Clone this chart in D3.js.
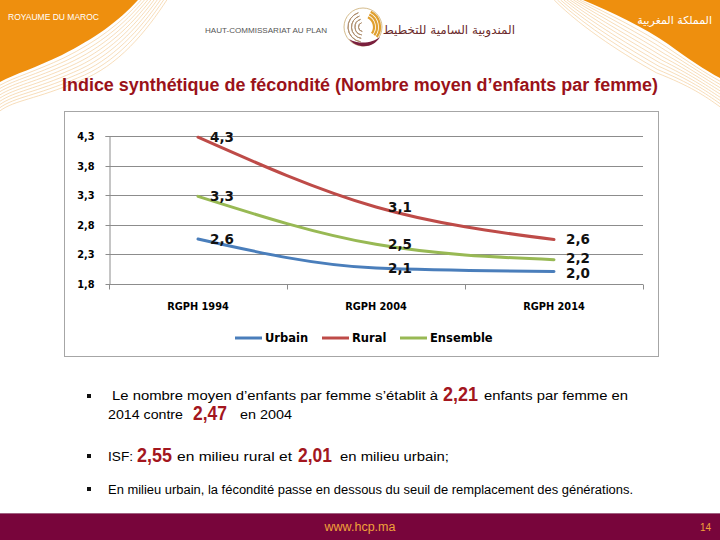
<!DOCTYPE html>
<html><head><meta charset="utf-8">
<script src="https://cdn.jsdelivr.net/npm/d3@7"></script>
<style>body{margin:0;background:#fff}svg{display:block}</style>
</head><body>
<script>
// ---- data ----
const categories = ["RGPH 1994", "RGPH 2004", "RGPH 2014"];
const urbain   = [2.56, 2.07, 2.01];
const rural    = [4.28, 3.10, 2.55];
const ensemble = [3.28, 2.47, 2.21];
const urbainLabels   = ["2,6", "2,1", "2,0"];
const ruralLabels    = ["4,3", "3,1", "2,6"];
const ensembleLabels = ["3,3", "2,5", "2,2"];
const yTicks = [1.8, 2.3, 2.8, 3.3, 3.8, 4.3];
const seriesNames = ["Urbain", "Rural", "Ensemble"];
const seriesColors = ["#4A7EBB", "#BE4B48", "#98B954"];

const W = 720, H = 540;
const svg = d3.select("body").append("svg").attr("width", W).attr("height", H);

// ---- header decorations ----
const orange = "#EE8F0E";
svg.append("path").attr("fill", orange)
  .attr("d", "M0,0 L138,0 C118,22 95,38 62,55 C35,68 15,74 0,82 Z");
svg.append("path").attr("fill", orange)
  .attr("d", "M583,0 L720,0 L720,78 C705,70 690,60 668,44 C645,28 612,12 583,0 Z");
const stripes = svg.append("g").attr("fill", "none").attr("stroke", "#F3CF9C").attr("stroke-width", 0.7);
for (let i = 1; i <= 9; i++) {
  const o = i * 3.2;
  stripes.append("path").attr("d", `M${138+o},0 C${118+o},${22+o*0.3} ${95+o*0.8},${38+o} ${62+o*0.6},${55+o*0.9} C${35},${68+o*1.1} ${15},${74+o*0.9} 0,${82+o}`);
  stripes.append("path").attr("d", `M${583-o},0 C${612-o},${12+o*0.6} ${645-o*0.6},${28+o} ${668-o*0.4},${44+o} C${690},${60+o*0.9} ${705},${70+o*0.9} 720,${78+o}`);
}
svg.append("text").attr("x", 8).attr("y", 20).attr("fill", "#fff")
  .attr("font-family", "Liberation Sans, Arial, sans-serif").attr("font-size", 8.5)
  .text("ROYAUME DU MAROC");
svg.append("text").attr("x", 712).attr("y", 24).attr("fill", "#fff").attr("text-anchor", "end")
  .attr("font-family", "DejaVu Sans, sans-serif").attr("font-size", 11)
  .text("المملكة المغربية");
svg.append("text").attr("x", 205).attr("y", 33).attr("fill", "#555")
  .attr("font-family", "Liberation Sans, Arial, sans-serif").attr("font-size", 7)
  .attr("textLength", 122).attr("lengthAdjust", "spacingAndGlyphs")
  .text("HAUT-COMMISSARIAT AU PLAN");
// logo
const lg = svg.append("g").attr("transform", "translate(363,27)").attr("fill", "none");
lg.append("circle").attr("r", 19).attr("stroke", "#C9A96E").attr("stroke-width", 0.8);
[15, 11.5, 8, 4.5].forEach((r) => {
  lg.append("path").attr("stroke", "#B09070").attr("stroke-width", 1)
    .attr("d", d3.arc()({innerRadius: r, outerRadius: r, startAngle: -Math.PI * 0.95, endAngle: -Math.PI * 0.1}));
});
[17, 14, 11].forEach((r) => {
  lg.append("path").attr("stroke", "#E0A030").attr("stroke-width", 2.2)
    .attr("d", d3.arc()({innerRadius: r, outerRadius: r, startAngle: Math.PI * 0.15, endAngle: Math.PI * 0.7}));
});
lg.append("path").attr("fill", "#7A1F3D")
  .attr("d", "M-14,12 C-6,22 10,22 17,10 C10,16 -4,18 -14,12 Z");
svg.append("text").attr("x", 515).attr("y", 34).attr("fill", "#6B2A2A").attr("text-anchor", "end")
  .attr("font-family", "DejaVu Sans, sans-serif").attr("font-size", 12)
  .text("المندوبية السامية للتخطيط");

// ---- title ----
svg.append("text").attr("x", 62).attr("y", 91).attr("fill", "#9A1219")
  .attr("font-family", "Liberation Sans Narrow, Liberation Sans, Arial, sans-serif")
  .attr("font-weight", "bold").attr("font-size", 17.5)
  .attr("textLength", 596).attr("lengthAdjust", "spacingAndGlyphs")
  .text("Indice synthétique de fécondité (Nombre moyen d’enfants par femme)");

// ---- chart frame ----
svg.append("rect").attr("x", 64.5).attr("y", 111.5).attr("width", 594).attr("height", 245)
  .attr("fill", "#fff").attr("stroke", "#A6A6A6").attr("stroke-width", 1);

const x = d3.scaleBand().domain(categories).range([109, 643]).padding(0);
const y = d3.scaleLinear().domain([1.8, 4.3]).range([284, 136]);
const fmt = v => v.toFixed(1).replace(".", ",");

svg.append("g").selectAll("line").data(yTicks.slice(1)).join("line")
  .attr("x1", 109).attr("x2", 643)
  .attr("y1", d => Math.round(y(d)) + 0.5).attr("y2", d => Math.round(y(d)) + 0.5)
  .attr("stroke", "#8C8C8C").attr("stroke-width", 1);

const yAxis = svg.append("g").attr("transform", "translate(109.5,0)")
  .call(d3.axisLeft(y).tickValues(yTicks).tickFormat(fmt).tickSize(4).tickPadding(11));
yAxis.select(".domain").attr("stroke", "#8C8C8C").attr("d", `M-4,${y(4.3)+0.5}H0.5V${y(1.8)}`);
yAxis.selectAll(".tick line").attr("stroke", "#8C8C8C");
yAxis.selectAll(".tick text").attr("font-family", "DejaVu Sans, Verdana, sans-serif")
  .attr("font-weight", "bold").attr("font-size", 9.8).attr("fill", "#000");
yAxis.selectAll(".tick").attr("transform", d => `translate(0,${Math.round(y(d)) + 0.5})`);

const xAxis = svg.append("g").attr("transform", `translate(0,${Math.round(y(1.8)) + 0.5})`);
xAxis.append("line").attr("x1", 109).attr("x2", 643).attr("stroke", "#8C8C8C");
const edges = [...categories.map(c => x(c)), x(categories[categories.length - 1]) + x.bandwidth()];
xAxis.selectAll("line.tk").data(edges).join("line").attr("class", "tk")
  .attr("x1", d => Math.round(d) + 0.5).attr("x2", d => Math.round(d) + 0.5)
  .attr("y1", 0).attr("y2", 5).attr("stroke", "#8C8C8C");
xAxis.selectAll("text").data(categories).join("text")
  .attr("x", d => x(d) + x.bandwidth() / 2).attr("y", 25).attr("text-anchor", "middle")
  .attr("font-family", "DejaVu Sans, Verdana, sans-serif").attr("font-weight", "bold")
  .attr("font-size", 9.8).attr("fill", "#000").text(d => d);

const series = [
  {name: seriesNames[0], color: seriesColors[0], values: urbain, labels: urbainLabels, nudge: [0, 0, 1.5]},
  {name: seriesNames[1], color: seriesColors[1], values: rural, labels: ruralLabels, nudge: [0, 0, 0]},
  {name: seriesNames[2], color: seriesColors[2], values: ensemble, labels: ensembleLabels, nudge: [0, 0, -1.5]}
];
const cx = c => x(c) + x.bandwidth() / 2;
const line = d3.line().x((d, i) => cx(categories[i])).y(d => y(d)).curve(d3.curveMonotoneX);
svg.append("g").selectAll("path").data(series).join("path")
  .attr("d", s => line(s.values)).attr("fill", "none")
  .attr("stroke", s => s.color).attr("stroke-width", 3).attr("stroke-linecap", "round");

series.forEach(s => {
  svg.append("g").selectAll("text").data(s.values).join("text")
    .attr("x", (d, i) => cx(categories[i]) + 12).attr("y", (d, i) => y(d) + s.nudge[i])
    .attr("dy", "0.36em")
    .attr("font-family", "DejaVu Sans, Verdana, sans-serif").attr("font-weight", "bold")
    .attr("font-size", 13.5).attr("fill", "#111")
    .text((d, i) => s.labels[i]);
});

const legX = [235, 322, 400];
const leg = svg.append("g");
series.forEach((s, i) => {
  leg.append("line").attr("x1", legX[i]).attr("x2", legX[i] + 27).attr("y1", 338).attr("y2", 338)
    .attr("stroke", s.color).attr("stroke-width", 3);
  leg.append("text").attr("x", legX[i] + 30).attr("y", 338).attr("dy", "0.36em")
    .attr("font-family", "DejaVu Sans, Verdana, sans-serif").attr("font-weight", "bold")
    .attr("font-size", 11.5).attr("fill", "#000").text(s.name);
});

// ---- bullets ----
const red = "#A3161E";
const bf = "Liberation Sans, Arial, sans-serif";
[396, 456, 489].forEach(by => svg.append("rect").attr("x", 87).attr("y", by - 2).attr("width", 4).attr("height", 4).attr("fill", "#111"));
function seg(xp, yp, txt, opts) {
  const t = svg.append("text").attr("x", xp).attr("y", yp).attr("font-family", bf)
    .attr("font-size", opts.size || 12.5).attr("fill", opts.color || "#000").text(txt);
  if (opts.bold) t.attr("font-weight", "bold");
  if (opts.len) t.attr("textLength", opts.len).attr("lengthAdjust", "spacingAndGlyphs");
  return t;
}
seg(112, 400, "Le nombre moyen d’enfants par femme s’établit à", {len: 326});
seg(443, 401, "2,21", {size: 20, bold: true, color: red, len: 35});
seg(484, 400, "enfants par femme en", {len: 144});
seg(108, 419, "2014 contre", {len: 75});
seg(193, 420, "2,47", {size: 20, bold: true, color: red, len: 34});
seg(240, 419, "en 2004", {len: 52});
seg(108, 461, "ISF:", {len: 25});
seg(137, 462, "2,55", {size: 20, bold: true, color: red, len: 35});
seg(177, 461, "en milieu rural et", {len: 115});
seg(298, 462, "2,01", {size: 20, bold: true, color: red, len: 34});
seg(340, 461, "en milieu urbain;", {len: 109});
seg(108, 494, "En milieu urbain, la fécondité passe en dessous du seuil de remplacement des générations.", {size: 12, len: 525});

// ---- footer ----
svg.append("rect").attr("x", 0).attr("y", 514).attr("width", W).attr("height", 26).attr("fill", "#78053B");
svg.append("line").attr("x1", 0).attr("x2", W).attr("y1", 513.5).attr("y2", 513.5).attr("stroke", "#A06080");
svg.append("text").attr("x", 360).attr("y", 531).attr("text-anchor", "middle").attr("fill", "#F0A23A")
  .attr("font-family", bf).attr("font-size", 12.5).text("www.hcp.ma");
svg.append("text").attr("x", 711).attr("y", 531).attr("text-anchor", "end").attr("fill", "#F0A23A")
  .attr("font-family", bf).attr("font-size", 10).text("14");
</script>
</body></html>
